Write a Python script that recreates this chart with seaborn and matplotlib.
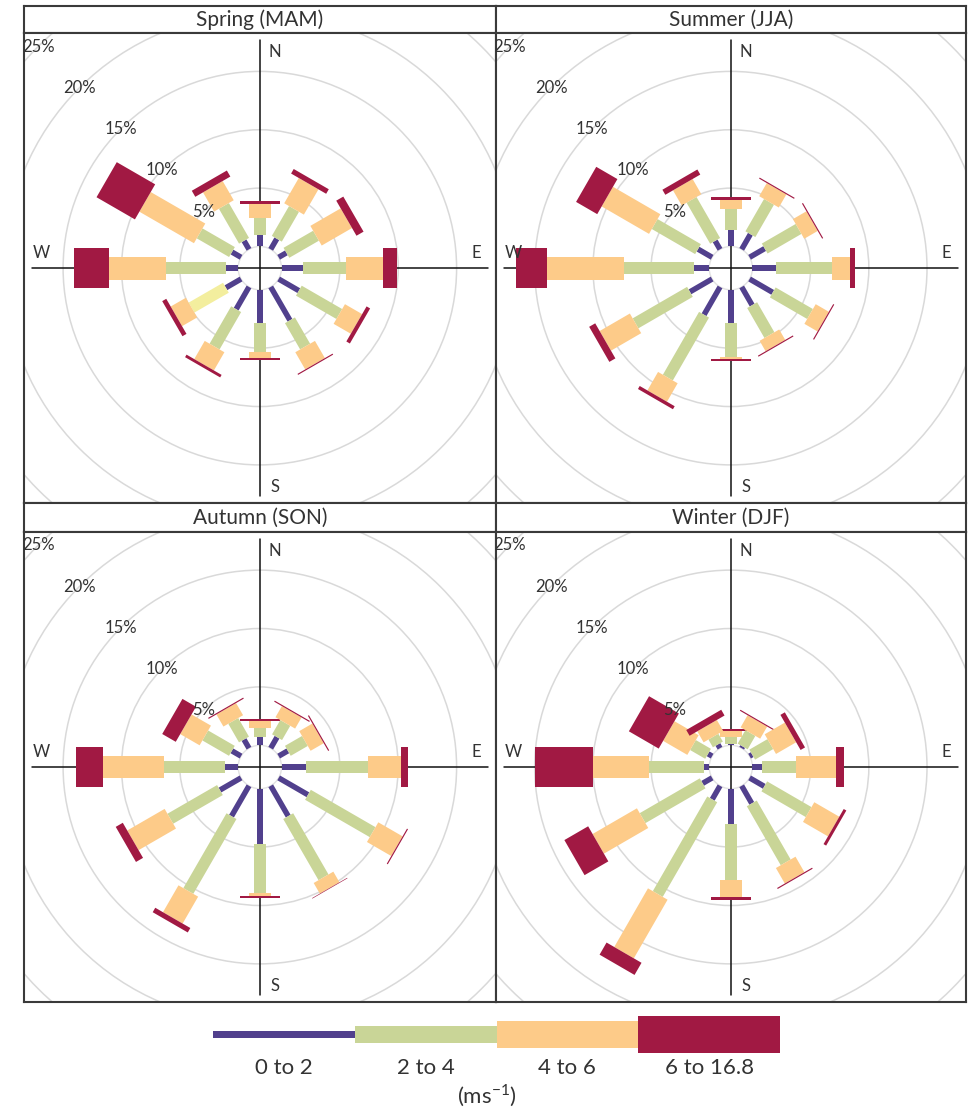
import numpy as np
import matplotlib
matplotlib.use("Agg")
import matplotlib.pyplot as plt
from matplotlib.patches import Polygon, Circle, Rectangle
import seaborn as sns

# ---- data: frequency (%) of each wind direction per speed band ----
directions = [0, 30, 60, 90, 120, 150, 180, 210, 240, 270, 300, 330]
speed_bins = ["0 to 2", "2 to 4", "4 to 6", "6 to 16.8"]
seasons = ["Spring (MAM)", "Summer (JJA)", "Autumn (SON)", "Winter (DJF)"]
ring_levels = [5, 10, 15, 20, 25]
ring_labels = ["5%", "10%", "15%", "20%", "25%"]
compass = ["N", "E", "S", "W"]

spring = [
    [1.00, 1.05, 0.77, 1.80, 2.00, 3.30, 2.86, 2.20, 1.50, 1.05, 0.90, 0.85],
    [1.40, 2.95, 2.93, 3.70, 4.00, 2.60, 2.44, 3.70, 3.40, 5.15, 3.20, 3.45],
    [1.20, 2.50, 3.00, 3.20, 1.70, 1.70, 0.56, 1.80, 1.50, 4.85, 5.40, 1.90],
    [0.30, 0.45, 0.70, 1.16, 0.35, 0.10, 0.19, 0.25, 0.40, 3.05, 3.80, 0.60],
]
summer = [
    [1.43, 1.50, 1.50, 2.00, 2.30, 1.80, 2.86, 2.75, 2.20, 1.29, 1.40, 0.84],
    [1.77, 3.20, 3.36, 4.86, 3.70, 2.97, 2.91, 6.22, 5.40, 6.01, 4.30, 4.06],
    [0.80, 1.30, 1.34, 1.51, 1.30, 1.03, 0.17, 1.83, 3.00, 6.60, 4.70, 1.50],
    [0.20, 0.10, 0.10, 0.40, 0.10, 0.10, 0.12, 0.30, 0.60, 2.70, 2.10, 0.50],
]
autumn = [
    [0.71, 1.09, 0.91, 2.09, 2.90, 3.00, 4.70, 3.00, 2.09, 1.14, 0.91, 0.86],
    [0.79, 1.41, 1.69, 5.31, 6.40, 6.05, 4.20, 7.40, 4.91, 5.23, 2.63, 1.84],
    [0.60, 1.10, 1.30, 2.80, 2.40, 1.05, 0.30, 2.66, 3.70, 5.20, 1.92, 1.20],
    [0.16, 0.10, 0.10, 0.60, 0.10, 0.05, 0.17, 0.44, 0.70, 2.29, 1.34, 0.10],
]
winter = [
    [0.14, 0.17, 0.26, 0.86, 1.46, 1.74, 3.00, 1.34, 0.94, 0.49, 0.40, 0.37],
    [0.57, 1.33, 1.80, 2.84, 4.40, 5.83, 4.80, 9.36, 5.96, 4.71, 1.50, 0.77],
    [0.49, 1.20, 2.00, 3.50, 2.48, 1.53, 1.50, 5.80, 4.40, 4.80, 2.40, 1.09],
    [0.20, 0.10, 0.44, 0.70, 0.26, 0.10, 0.20, 1.20, 2.36, 5.00, 2.96, 0.57],
]
season_data = [spring, summer, autumn, winter]

# ---- style ----
sns.set_theme(style="white")
plt.rcParams["font.family"] = ["Lato", "DejaVu Sans"]
palette = sns.color_palette(["#51408D", "#C9D597", "#FDCB89", "#A11943"])
odd_fill = "#F3EE9E"        # one paddle segment in spring drawn in pale yellow
text_col = "#333333"
frame_col = "#3a3a3a"

W, H = 968, 1110
fig = plt.figure(figsize=(W / 100, H / 100), dpi=100)
fig.patch.set_facecolor("white")

PX = 11.67                 # pixels per percentage point
OFF = 21.7 / PX            # radius of the empty centre
HALF_W = [5.5 / 2 / PX, 11.5 / 2 / PX, 22.7 / 2 / PX, 40.5 / 2 / PX]


def px_rect(x0, y0, x1, y1):
    return [x0 / W, 1 - y1 / H, (x1 - x0) / W, (y1 - y0) / H]


def paddle(ax, theta_deg, r0, r1, hw, colour):
    t = np.deg2rad(theta_deg)
    u = np.array([np.sin(t), np.cos(t)])
    n = np.array([np.cos(t), -np.sin(t)])
    pts = [r0 * u - hw * n, r0 * u + hw * n, r1 * u + hw * n, r1 * u - hw * n]
    ax.add_patch(Polygon(pts, closed=True, facecolor=colour, edgecolor="none",
                         zorder=3))


def draw_rose(ax, bands, odd=None):
    half_x = (471.7 / 2) / PX
    half_y = (470.3 / 2) / PX
    ax.set_xlim(-half_x, half_x)
    ax.set_ylim(-half_y, half_y)
    ax.set_xticks([])
    ax.set_yticks([])
    for s in ax.spines.values():
        s.set_color(frame_col)
        s.set_linewidth(1.5)

    # grid rings
    ax.add_patch(Circle((0, 0), OFF, fill=False, ec="#e2e2e2", lw=1.0, zorder=1))
    for lev in ring_levels + [30]:
        ax.add_patch(Circle((0, 0), OFF + lev, fill=False, ec="#d9d9d9",
                            lw=1.1, zorder=1))

    # compass cross
    L = 228 / PX
    ax.plot([-L, L], [0, 0], color="#111111", lw=1.1, zorder=2)
    ax.plot([0, 0], [-L, L], color="#111111", lw=1.1, zorder=2)

    cum = np.cumsum(np.array(bands), axis=0)
    for i, d in enumerate(directions):
        start = 0.0
        for j in range(len(speed_bins)):
            colour = palette[j]
            if odd is not None and (d, j) == odd:
                colour = odd_fill
            paddle(ax, d, OFF + start, OFF + cum[j, i], HALF_W[j], colour)
            start = cum[j, i]

    # ring labels on the north-west diagonal
    for lev, lab in zip(ring_levels, ring_labels):
        r = OFF + lev
        ax.text(-r / np.sqrt(2), r / np.sqrt(2), lab, ha="center", va="center",
                fontsize=12, color=text_col, zorder=5, clip_on=True)

    # compass letters
    R, o = 216 / PX, 15 / PX
    pos = {"N": (o, R), "E": (R, o), "S": (o, -R - 3 / PX), "W": (-R - 2 / PX, o)}
    for c in compass:
        ax.text(*pos[c], c, ha="center", va="center", fontsize=12,
                color=text_col, zorder=5)


cols = [(24, 495.7), (495.7, 966)]
rows = [(5.7, 33, 503.3), (503.3, 531.7, 1002.3)]
for k, (name, bands) in enumerate(zip(seasons, season_data)):
    (x0, x1) = cols[k % 2]
    (ys, yp, yb) = rows[k // 2]
    strip = fig.add_axes(px_rect(x0, ys, x1, yp))
    strip.set_xticks([])
    strip.set_yticks([])
    strip.set_facecolor("white")
    for s in strip.spines.values():
        s.set_color(frame_col)
        s.set_linewidth(1.5)
    strip.text(0.5, 0.47, name, transform=strip.transAxes, ha="center",
               va="center", fontsize=15, color=text_col)
    ax = fig.add_axes(px_rect(x0, yp, x1, yb))
    draw_rose(ax, bands, odd=(240, 1) if k == 0 else None)

# ---- speed legend ----
leg = fig.add_axes(px_rect(150, 1008, 850, 1110))
leg.set_xlim(150, 850)
leg.set_ylim(1110, 1008)
leg.axis("off")
seg_x = [213, 354.75, 496.5, 638.25, 780]
seg_h = [7.7, 16.9, 26.8, 36.4]
yc = 1034.5
for j, lab in enumerate(speed_bins):
    leg.add_patch(Rectangle((seg_x[j], yc - seg_h[j] / 2), seg_x[j + 1] - seg_x[j],
                            seg_h[j], facecolor=palette[j], edgecolor="none"))
    leg.text((seg_x[j] + seg_x[j + 1]) / 2, 1068, lab, ha="center", va="center",
             fontsize=16, color=text_col)
leg.text(487, 1096, r"(ms$^{\mathregular{-1}}$)", ha="center", va="center",
         fontsize=16, color=text_col)

fig.savefig("out.png", dpi=100, facecolor="white")
